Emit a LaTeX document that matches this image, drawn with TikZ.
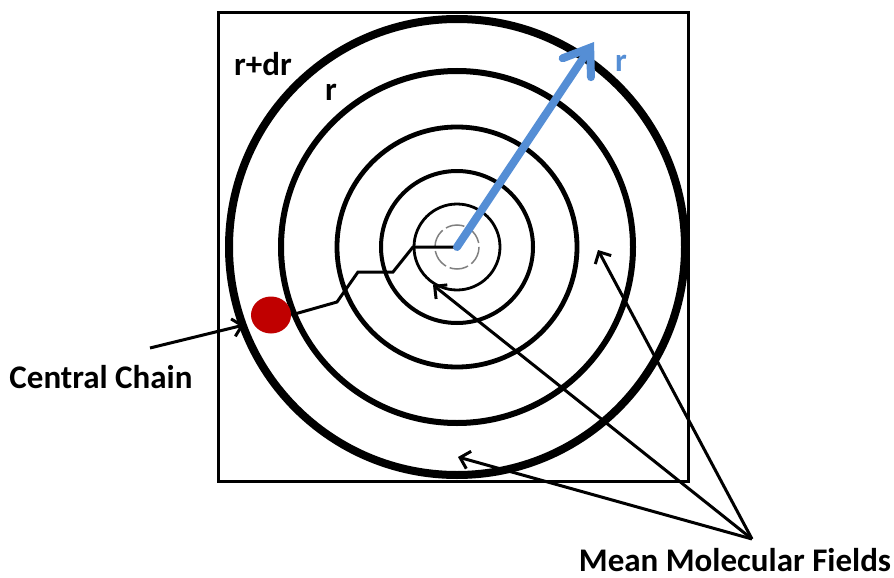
\documentclass[tikz,border=0pt]{standalone}
\usepackage{fontspec}
\setmainfont{Carlito}
\usetikzlibrary{arrows.meta,shapes.geometric}
\definecolor{arrowblue}{RGB}{85,142,213}
\definecolor{chainred}{RGB}{192,0,0}
\tikzset{
  ring/.style={draw=black, fill=none},
  lbl/.style={font=\bfseries\fontsize{33}{36}\selectfont, inner sep=0pt, anchor=base, text depth=0pt},
  biglbl/.style={font=\bfseries\fontsize{33}{36}\selectfont, inner sep=0pt, anchor=base, text depth=0pt},
  pointer/.style={draw=black, line width=3pt, -{Straight Barb[length=9pt,width=18pt]}},
}
\begin{document}
\begin{tikzpicture}[x=1pt,y=-1pt]
\useasboundingbox (0,0) rectangle (894,578);
% frame
\draw[line width=3pt] (218,13) rectangle (688,481);
\coordinate (c) at (457,247);
% rings
\draw[ring, line width=8pt] (c) circle[radius=228];
\draw[ring, line width=6pt] (c) circle[radius=176];
\draw[ring, line width=4.8pt] (c) circle[radius=120];
\draw[ring, line width=4pt] (c) circle[radius=76];
\draw[ring, line width=2.8pt] (c) circle[radius=43];
\draw[ring, draw=gray, line width=1.5pt, dash pattern=on 19pt off 4pt] (c) circle[radius=22];
% chain
\node[draw=none, fill=chainred, ellipse, minimum width=40pt, minimum height=37pt, inner sep=0pt] (dot) at (271,315) {};
\draw[line width=3pt] (dot.east) -- (337,302) -- (358,272) -- (393,272) -- (413,247) -- (c);
% blue radius arrow
\coordinate (tip) at (594,42);
\draw[arrowblue, line width=8pt, line cap=round, -{Straight Barb[length=24pt,width=34pt,line cap=round]}] (c) -- (tip);
% labels
\node[lbl] (rdr) at (263,75) {r+dr};
\node[lbl] (rin) at (331,100) {r};
\node[lbl, text=arrowblue] (rblue) at (621,72) {r};
\node[biglbl] (cc) at (101,388) {Central Chain};
\node[biglbl] (mmf) at (735,571) {Mean Molecular Fields};
% pointers
\coordinate (ccstart) at (150,348);
\coordinate (cctip) at (244,325);
\draw[pointer] (ccstart) -- (cctip);
\coordinate (mstart) at (752,539);
\coordinate (m1) at (598,250);
\coordinate (m2) at (433,285);
\coordinate (m3) at (458,457);
\draw[pointer] (mstart) -- (m1);
\draw[pointer] (mstart) -- (m2);
\draw[pointer] (mstart) -- (m3);
\end{tikzpicture}
\end{document}
